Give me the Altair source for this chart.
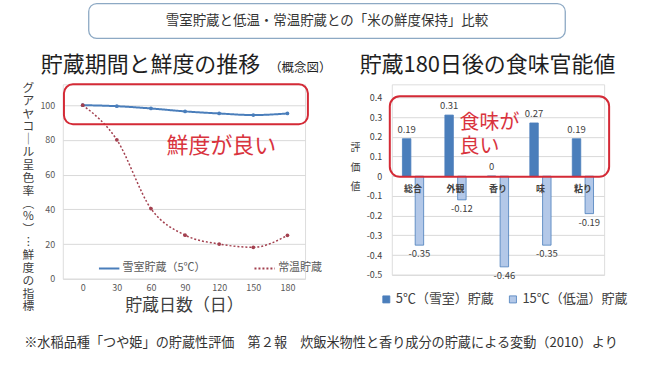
import altair as alt
import pandas as pd

FONT = "Noto Sans CJK JP"

# ---- left chart data ----
days = [0, 30, 60, 90, 120, 150, 180]
snow_room = [100, 99.4, 98.1, 96.4, 95.2, 94.3, 95.2]
normal_room = [100, 80, 40.4, 25.1, 20, 18.1, 25]
line_series = ["雪室貯蔵（5℃）", "常温貯蔵"]
y_ticks_left = [0, 20, 40, 60, 80, 100]

# ---- right chart data ----
cats = ["総合", "外観", "香り", "味", "粘り"]
v5 = [0.19, 0.31, 0, 0.27, 0.19]
v15 = [-0.35, -0.12, -0.46, -0.35, -0.19]
bar_series = ["5℃（雪室）貯蔵", "15℃（低温）貯蔵"]
y_ticks_right = [0.4, 0.3, 0.2, 0.1, 0, -0.1, -0.2, -0.3, -0.4, -0.5]

HEADER = "雪室貯蔵と低温・常温貯蔵との「米の鮮度保持」比較"
FOOT = "※水稲品種「つや姫」の貯蔵性評価　第２報　炊飯米物性と香り成分の貯蔵による変動（2010）より"

line_df = pd.DataFrame({
    "day": days * 2,
    "val": snow_room + normal_room,
    "s": [line_series[0]] * len(days) + [line_series[1]] * len(days),
})
one = pd.DataFrame({"a": [0]})

legL = alt.Legend(orient="none", legendX=35, legendY=173, direction="horizontal",
                  title=None, symbolType="stroke", symbolSize=420, symbolStrokeWidth=2,
                  labelFontSize=11, labelFont=FONT, labelColor="#595959",
                  columnPadding=44, labelOffset=2)
colL = alt.Color("s:N", scale=alt.Scale(domain=line_series, range=["#4a7ebb", "#a3404f"]), legend=legL)
dashL = alt.StrokeDash("s:N", scale=alt.Scale(domain=line_series, range=[[1, 0], [2, 2]]), legend=legL)

xL = alt.X("day:Q", scale=alt.Scale(domain=[-17.5, 195.5], nice=False, zero=False),
           axis=alt.Axis(values=days, tickCount=20, grid=False, ticks=False, domain=False,
                         labelOverlap=False,
                         labelFontSize=9, labelColor="#595959", labelPadding=5, labelFont=FONT,
                         title="貯蔵日数（日）", titleFont=FONT, titleFontSize=17,
                         titleFontWeight="normal", titleColor="#404040", titlePadding=5))
yL = alt.Y("val:Q", scale=alt.Scale(domain=[0, 112], nice=False),
           axis=alt.Axis(values=y_ticks_left, tickCount=20, ticks=False, domain=False,
                         gridColor="#d9d9d9", labelOverlap=False, labelFlush=False,
                         labelFontSize=9, labelColor="#595959", labelPadding=8, labelFont=FONT,
                         title=list("グアヤコ｜ル呈色率︵％︶︙鮮度の指標"), titleFont=FONT,
                         titleAngle=0, titleX=-35, titleY=-2, titleBaseline="top",
                         titleAlign="center", titleLineHeight=12.9, titleFontSize=11.8,
                         titleFontWeight="normal", titleColor="#404040"))

base = alt.Chart(line_df)
lineA = base.transform_filter(alt.datum.s == line_series[0]).mark_line(
    strokeWidth=2, interpolate="monotone", clip=False).encode(x=xL, y=yL, color=colL, strokeDash=dashL)
lineB = base.transform_filter(alt.datum.s == line_series[1]).mark_line(
    strokeWidth=1.5, interpolate="monotone", clip=False).encode(x=xL, y=yL, color=colL, strokeDash=dashL)
pts = base.mark_circle(size=14, opacity=1, clip=False).encode(x=xL, y=yL, color=colL)

boxL = alt.Chart(pd.DataFrame({"day": [-16.5], "day2": [198], "val": [89], "val2": [112]})).mark_rect(
    fillOpacity=0, stroke="#d42a36", strokeWidth=2, cornerRadius=9, clip=False).encode(
    x="day:Q", x2="day2", y="val:Q", y2="val2")
txtL = alt.Chart(pd.DataFrame({"day": [121.9], "val": [76.4]})).mark_text(
    text="鮮度が良い", font=FONT, fontSize=22, color="#d9343e", baseline="middle", clip=False).encode(
    x="day:Q", y="val:Q")

canvas = alt.Chart(one).mark_rect(fillOpacity=0, strokeWidth=0, clip=False).encode(
    x=alt.value(-62), x2=alt.value(588), y=alt.value(-83), y2=alt.value(295))
hdr_box = alt.Chart(one).mark_rect(fill="white", stroke="#8da9c4", strokeWidth=1.3,
                                   cornerRadius=8, clip=False).encode(
    x=alt.value(26), x2=alt.value(504), y=alt.value(-81), y2=alt.value(-46))
hdr_txt = alt.Chart(one).mark_text(text=HEADER, font=FONT, fontSize=13.5, color="#333333",
                                   baseline="middle", clip=False).encode(
    x=alt.value(265), y=alt.value(-64))
foot = alt.Chart(one).mark_text(text=FOOT, font=FONT, fontSize=13.2, color="#333333",
                                baseline="middle", clip=False).encode(
    x=alt.value(259), y=alt.value(259))
titleL = alt.Chart(one).mark_text(text="貯蔵期間と鮮度の推移", font=FONT, fontSize=22, color="#1f1f1f",
                                  align="left", baseline="alphabetic", clip=False).encode(
    x=alt.value(-22), y=alt.value(-12))
titleL2 = alt.Chart(one).mark_text(text="（概念図）", font=FONT, fontSize=12.5, color="#1f1f1f",
                                   align="left", baseline="alphabetic", clip=False).encode(
    x=alt.value(207), y=alt.value(-12))

left = alt.layer(canvas, hdr_box, hdr_txt, foot, titleL, titleL2,
                 lineA, lineB, pts, boxL, txtL).properties(width=243, height=195)

# ---- right chart ----
bar_df = pd.DataFrame({
    "cat": cats * 2,
    "v": v5 + v15,
    "s": [bar_series[0]] * len(cats) + [bar_series[1]] * len(cats),
})
legR = alt.Legend(orient="none", legendX=-12, legendY=209, direction="horizontal", title=None,
                  symbolType="square", symbolSize=50, symbolStrokeColor="#4a7ebb",
                  symbolStrokeWidth=0.8, labelFontSize=13, labelFont=FONT,
                  labelColor="#404040", columnPadding=12, labelOffset=3)
xR = alt.X("cat:N", sort=cats, scale=alt.Scale(paddingInner=0.5, paddingOuter=0.25), axis=None)
xoR = alt.XOffset("s:N", sort=bar_series, scale=alt.Scale(paddingInner=0.336, paddingOuter=0))
yR = alt.Y("v:Q", scale=alt.Scale(domain=[-0.5, 0.466], nice=False, zero=False),
           axis=alt.Axis(values=y_ticks_right, tickCount=30, labelExpr="datum.value + ''",
                         ticks=False, labelOverlap=False, labelFlush=False,
                         domain=False, gridColor="#d9d9d9", labelFontSize=9, labelFont=FONT,
                         labelColor="#404040", labelPadding=10,
                         title=list("評価値"), titleFont=FONT, titleAngle=0, titleX=-37,
                         titleY=58, titleBaseline="top", titleAlign="center",
                         titleLineHeight=20, titleFontSize=10, titleFontWeight="normal",
                         titleColor="#404040"))
colR = alt.Color("s:N", scale=alt.Scale(domain=bar_series, range=["#4a7ebb", "#b3c8e8"]), legend=legR)

rbase = alt.Chart(bar_df)
bars = rbase.mark_bar(stroke="#4a7ebb", strokeWidth=0.8, clip=False).encode(
    x=xR, xOffset=xoR, y=yR, y2=alt.datum(0), color=colR)
lab5 = rbase.transform_filter(alt.datum.s == bar_series[0]).transform_calculate(
    lbl="datum.v + ''").mark_text(dy=-9, fontSize=9.5, font=FONT, color="#404040", clip=False).encode(
    x=xR, xOffset=xoR, y=yR, text="lbl:N")
lab15 = rbase.transform_filter(alt.datum.s == bar_series[1]).transform_calculate(
    lbl="datum.v + ''").mark_text(dy=9, fontSize=9.5, font=FONT, color="#404040", clip=False).encode(
    x=xR, xOffset=xoR, y=yR, text="lbl:N")
catlab = alt.Chart(pd.DataFrame({"cat": cats})).mark_text(
    dy=13, fontSize=9, fontWeight="bold", font=FONT, color="#404040", clip=False).encode(
    x=xR, y=alt.datum(0), text="cat:N")
boxR = alt.Chart(one).mark_rect(fillOpacity=0, stroke="#d42a36", strokeWidth=2,
                                cornerRadius=10, clip=False).encode(
    x=alt.value(-2), x2=alt.value(218), y=alt.datum(0.405), y2=alt.datum(-0.003))
txtR = alt.Chart(one).mark_text(text=["食味が", "良い"], font=FONT, fontSize=20, color="#d9343e",
                                align="left", baseline="top", lineHeight=24, clip=False).encode(
    x=alt.value(68), y=alt.value(29))
titleR = alt.Chart(one).mark_text(text="貯蔵180日後の食味官能値", font=FONT, fontSize=22,
                                  color="#1f1f1f", align="center", baseline="alphabetic",
                                  clip=False).encode(x=alt.value(96), y=alt.value(-12))

right = alt.layer(bars, lab5, lab15, catlab, boxR, txtR, titleR).properties(width=213, height=191)

chart = alt.hconcat(left, right, spacing=87, bounds="flush").resolve_scale(
    color="independent", strokeDash="independent").properties(padding=0).configure_view(
    strokeWidth=0).configure(background="white")

chart.save("out.html", embed_options={"renderer": "svg", "actions": False})
